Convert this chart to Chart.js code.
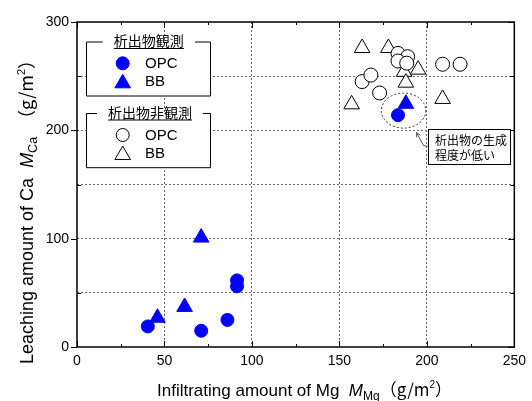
<!DOCTYPE html>
<html>
<head>
<meta charset="utf-8">
<script src="https://cdn.jsdelivr.net/npm/chart.js@4.4.1/dist/chart.umd.min.js"></script>
<style>
  body { margin: 0; background: #fff; }
  #c { display: block; }
</style>
</head>
<body>
<canvas id="c" width="532" height="401"></canvas>
<script>
// 析出物観測 (precipitate seen)
var opcObsX = [40.5, 71, 86, 91.5, 91.5, 183.5];
var opcObsY = [19, 15, 25, 61.5, 56, 214];
var bbObsX = [46, 61.5, 71, 188];
var bbObsY = [27, 37, 101, 224.5];
// 析出物非観測 (precipitate not seen)
var opcNoneX = [163, 168, 173, 183.5, 189, 183.5, 188.5, 209, 219];
var opcNoneY = [245, 251, 234.5, 271, 268, 264, 262, 261, 261];
var bbNoneX = [163, 178, 187, 195, 188, 157, 209];
var bbNoneY = [276, 276, 254, 256, 244, 224, 229];

var xTickLabels = [0, 50, 100, 150, 200, 250];
var yTickLabels = [0, 100, 200, 300];
var groupTitles = ['析出物観測', '析出物非観測'];
var seriesNames = ['OPC', 'BB'];
var noteLines = ['析出物の生成', '程度が低い'];

var BLUE = '#0000ff';
var LAT = '"Liberation Sans", Arial, sans-serif';
var JP = '"Noto Sans CJK JP", sans-serif';

function pts(xs, ys) {
  return xs.map(function(x, i) { return { x: x, y: ys[i] }; });
}

// draw a run of text pieces (font / vertical shift) starting at x,y
function drawRuns(ctx, runs, x, y) {
  runs.forEach(function(r) {
    ctx.font = r.font;
    ctx.fillText(r.t, x, y + (r.dy || 0));
    x += ctx.measureText(r.t).width + (r.gap || 0);
  });
}

var extras = {
  id: 'extras',
  afterDraw: function(chart) {
    var ctx = chart.ctx, ca = chart.chartArea;
    var xs = chart.scales.x, ys = chart.scales.y;
    var H = Chart.helpers;
    ctx.save();

    // frame
    ctx.strokeStyle = '#000';
    ctx.lineWidth = 1.5;
    ctx.strokeRect(ca.left, ca.top, ca.right - ca.left, ca.bottom - ca.top);

    // tick marks
    ctx.lineWidth = 1;
    ctx.beginPath();
    for (var v = 0; v <= 250; v += 25) {
      var px = Math.round(xs.getPixelForValue(v)) + 0.5;
      var len = v % 50 === 0 ? 6 : 3;
      ctx.moveTo(px, ca.bottom); ctx.lineTo(px, ca.bottom - len);
      ctx.moveTo(px, ca.top); ctx.lineTo(px, ca.top + len);
    }
    for (var w = 0; w <= 300; w += 50) {
      var py = Math.round(ys.getPixelForValue(w)) + 0.5;
      if (w % 100 === 0) {
        ctx.moveTo(ca.left - 6, py); ctx.lineTo(ca.left, py);
        ctx.moveTo(ca.right - 6, py); ctx.lineTo(ca.right, py);
      } else {
        ctx.moveTo(ca.left, py); ctx.lineTo(ca.left + 4, py);
        ctx.moveTo(ca.right - 4, py); ctx.lineTo(ca.right, py);
      }
    }
    ctx.stroke();

    // dashed ellipse around the low-precipitate points
    var ex = xs.getPixelForValue(186.7), ey = ys.getPixelForValue(218.2);
    var rx = xs.getPixelForValue(12.7) - xs.getPixelForValue(0);
    var ry = ys.getPixelForValue(0) - ys.getPixelForValue(16.2);
    ctx.setLineDash([2, 2]);
    ctx.strokeStyle = '#333';
    ctx.beginPath();
    ctx.ellipse(ex, ey, rx, ry, 0, 0, Math.PI * 2);
    ctx.stroke();
    ctx.setLineDash([]);

    // callout with leader arrow
    ctx.strokeStyle = '#555';
    ctx.beginPath();
    ctx.moveTo(428.5, 146.5); ctx.lineTo(423.5, 145.5); ctx.lineTo(416.5, 132.5);
    ctx.stroke();
    var ang = Math.atan2(132.5 - 145.5, 416.5 - 423.5);
    ctx.beginPath();
    ctx.moveTo(416.5 - 5 * Math.cos(ang - 0.45), 132.5 - 5 * Math.sin(ang - 0.45));
    ctx.lineTo(416.5, 132.5);
    ctx.lineTo(416.5 - 5 * Math.cos(ang + 0.45), 132.5 - 5 * Math.sin(ang + 0.45));
    ctx.stroke();
    ctx.fillStyle = '#fff';
    ctx.fillRect(428.5, 129.5, 82, 35);
    ctx.strokeStyle = '#000';
    ctx.strokeRect(428.5, 129.5, 82, 35);
    ctx.fillStyle = '#000';
    ctx.font = '12px ' + JP;
    ctx.textBaseline = 'middle';
    ctx.textAlign = 'left';
    ctx.fillText(noteLines[0], 435, 140);
    ctx.fillText(noteLines[1], 435, 155);

    // legend groups
    var boxes = [
      { top: 42, bottom: 96, gap: [102.7, 195], filled: true, cy: [63.3, 83.3] },
      { top: 113.5, bottom: 167.7, gap: [97, 203], filled: false, cy: [135, 155] }
    ];
    boxes.forEach(function(b, i) {
      var L = 86.5, R = 210.5;
      ctx.fillStyle = '#fff';
      ctx.fillRect(L, b.top, R - L, b.bottom - b.top);
      ctx.strokeStyle = '#000';
      ctx.lineWidth = 1;
      ctx.beginPath();
      ctx.moveTo(b.gap[0], b.top); ctx.lineTo(L, b.top); ctx.lineTo(L, b.bottom);
      ctx.lineTo(R, b.bottom); ctx.lineTo(R, b.top); ctx.lineTo(b.gap[1], b.top);
      ctx.stroke();
      ctx.fillStyle = '#000';
      ctx.font = '14px ' + JP;
      ctx.textAlign = 'center';
      ctx.textBaseline = 'middle';
      var cx = (b.gap[0] + b.gap[1]) / 2;
      ctx.fillText(groupTitles[i], cx, b.top - 1);
      var tw = ctx.measureText(groupTitles[i]).width;
      ctx.beginPath();
      ctx.moveTo(cx - tw / 2, b.top + 6.5); ctx.lineTo(cx + tw / 2, b.top + 6.5);
      ctx.stroke();
      ctx.fillStyle = b.filled ? BLUE : '#fff';
      ctx.strokeStyle = b.filled ? BLUE : '#000';
      H.drawPoint(ctx, { pointStyle: 'circle', radius: 6.5, borderWidth: 1 }, 122.7, b.cy[0]);
      H.drawPoint(ctx, { pointStyle: 'triangle', radius: 9, borderWidth: 1 }, 122.7, b.cy[1]);
      ctx.fillStyle = '#000';
      ctx.font = '15px ' + LAT;
      ctx.textAlign = 'left';
      ctx.fillText(seriesNames[0], 145, b.cy[0] + 0.5);
      ctx.fillText(seriesNames[1], 145, b.cy[1] - 1);
    });

    // axis titles
    ctx.fillStyle = '#000';
    ctx.textAlign = 'left';
    ctx.textBaseline = 'alphabetic';
    drawRuns(ctx, [
      { t: 'Infiltrating amount of Mg  ', font: '17px ' + LAT },
      { t: 'M', font: 'italic 17px ' + LAT },
      { t: 'Mg', font: '12px ' + LAT, dy: 4 },
      { t: '（g/m', font: '17px ' + JP },
      { t: '2', font: '10px ' + LAT, dy: -8 },
      { t: '）', font: '17px ' + JP }
    ], 157, 396);

    ctx.translate(33, 364);
    ctx.rotate(-Math.PI / 2);
    drawRuns(ctx, [
      { t: 'Leaching amount of Ca  ', font: '18px ' + LAT },
      { t: 'M', font: 'italic 18px ' + LAT },
      { t: 'Ca', font: '12.5px ' + LAT, dy: 4 },
      { t: '　（g/m', font: '18px ' + JP },
      { t: '2', font: '11px ' + LAT, dy: -8 },
      { t: '）', font: '18px ' + JP }
    ], 0, 0);
    ctx.restore();
  }
};

var gridColor = function(lo, hi) {
  return function(c) {
    var v = c.tick ? c.tick.value : 0;
    return (v % 50 === 0 && v > lo && v < hi) ? '#666' : 'rgba(0,0,0,0)';
  };
};

new Chart(document.getElementById('c'), {
  type: 'scatter',
  data: {
    datasets: [
      { data: pts(opcObsX, opcObsY), pointStyle: 'circle', pointRadius: 6.5,
        backgroundColor: BLUE, borderColor: BLUE, borderWidth: 1 },
      { data: pts(bbObsX, bbObsY), pointStyle: 'triangle', pointRadius: 9,
        backgroundColor: BLUE, borderColor: BLUE, borderWidth: 1 },
      { data: pts(opcNoneX, opcNoneY), pointStyle: 'circle', pointRadius: 7,
        backgroundColor: '#fff', borderColor: '#000', borderWidth: 1 },
      { data: pts(bbNoneX, bbNoneY), pointStyle: 'triangle', pointRadius: 9,
        backgroundColor: '#fff', borderColor: '#000', borderWidth: 1 }
    ]
  },
  options: {
    responsive: false,
    animation: false,
    devicePixelRatio: 1,
    layout: { padding: { left: 0, top: 22, right: 12, bottom: 0 } },
    plugins: { legend: { display: false }, tooltip: { enabled: false } },
    scales: {
      x: {
        type: 'linear', min: 0, max: 250,
        afterFit: function(s) { s.height = 54; },
        ticks: {
          stepSize: 25, autoSkip: false, maxRotation: 0, padding: 6, color: '#000',
          font: { family: LAT, size: 14 },
          callback: function(v) { return xTickLabels.indexOf(v) >= 0 ? String(v) : ''; }
        },
        grid: { color: gridColor(0, 250), drawTicks: false, lineWidth: 1 },
        border: { display: false, dash: [2, 2] }
      },
      y: {
        type: 'linear', min: 0, max: 300,
        afterFit: function(s) { s.width = 77; },
        ticks: {
          stepSize: 50, padding: 8, color: '#000',
          font: { family: LAT, size: 14 },
          callback: function(v) { return yTickLabels.indexOf(v) >= 0 ? String(v) : ''; }
        },
        grid: { color: gridColor(0, 300), drawTicks: false, lineWidth: 1 },
        border: { display: false, dash: [2, 2] }
      }
    }
  },
  plugins: [extras]
});
</script>
</body>
</html>
